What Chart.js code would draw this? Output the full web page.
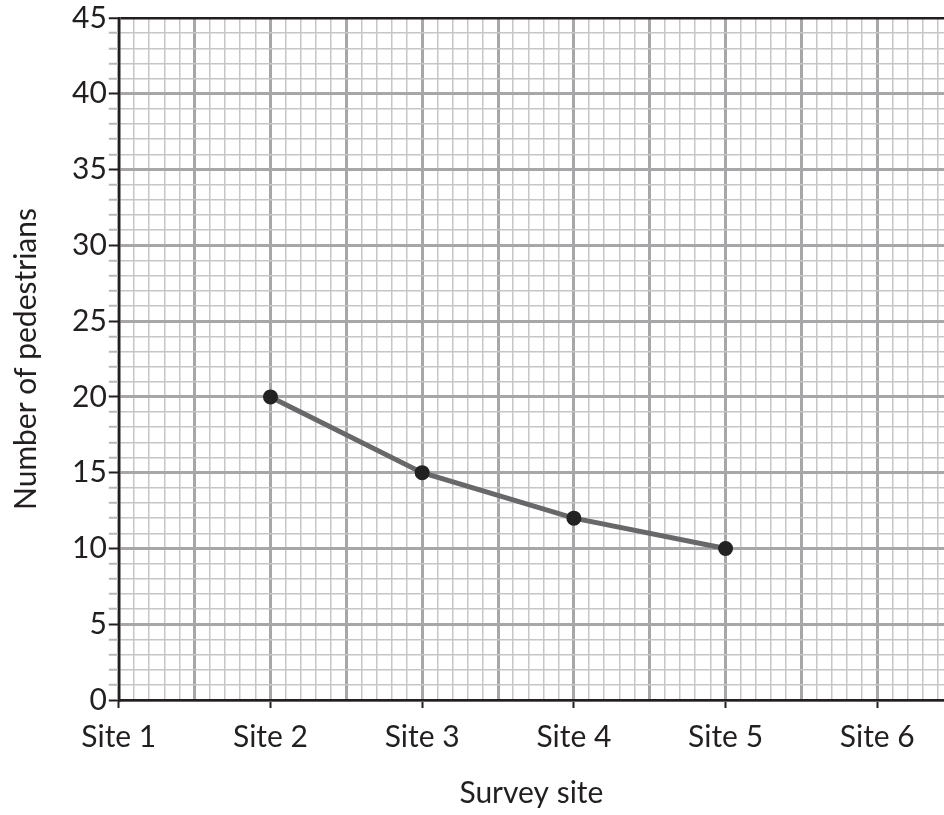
<!DOCTYPE html>
<html>
<head>
<meta charset="utf-8">
<script src="https://cdn.jsdelivr.net/npm/chart.js@4/dist/chart.umd.min.js"></script>
<style>
  html, body { margin: 0; padding: 0; background: #fff; overflow: hidden; }
  #wrap { position: fixed; left: 0; top: 0; width: 944px; height: 815px; }
</style>
</head>
<body>
<div id="wrap"><canvas id="chart"></canvas></div>
<script>
// data
const sites = ['Site 1', 'Site 2', 'Site 3', 'Site 4', 'Site 5', 'Site 6'];
const siteNumbers = [2, 3, 4, 5];
const pedestrians = [20, 15, 12, 10];
const yTickLabels = [0, 5, 10, 15, 20, 25, 30, 35, 40, 45];

const FONT = 'Lato, "Noto Sans", sans-serif';
const MINOR = '#c6c6c8';
const MAJOR = '#a7a7a9';

const points = siteNumbers.map((s, i) => ({ x: s, y: pedestrians[i] }));

function isWhole(v, step) {
  const n = Math.round(v * 10);
  return n % step === 0;
}

new Chart(document.getElementById('chart'), {
  type: 'line',
  data: {
    datasets: [{
      data: points,
      borderColor: '#68686a',
      borderWidth: 5,
      pointBackgroundColor: '#222',
      pointBorderColor: '#222',
      pointRadius: 5,
      tension: 0
    }]
  },
  options: {
    responsive: true,
    maintainAspectRatio: false,
    animation: false,
    layout: { autoPadding: false, padding: { top: 0, right: 0, left: 8, bottom: 0 } },
    plugins: { legend: { display: false }, tooltip: { enabled: false } },
    scales: {
      x: {
        type: 'linear',
        min: 1,
        max: 6.44,
        afterBuildTicks: (scale) => {
          const t = [];
          for (let i = 10; i <= 64; i++) t.push({ value: i / 10 });
          scale.ticks = t;
        },
        afterFit: (scale) => { scale.paddingRight = 0; },
        ticks: {
          autoSkip: false,
          maxRotation: 0,
          padding: 11,
          color: '#231f20',
          font: { family: FONT, size: 30 },
          callback: (v) => isWhole(v, 10) ? sites[Math.round(v) - 1] : ''
        },
        grid: {
          color: (c) => isWhole(c.tick.value, 5) ? MAJOR : MINOR,
          lineWidth: (c) => isWhole(c.tick.value, 5) ? 3 : 1.5,
          tickColor: (c) => isWhole(c.tick.value, 10) ? '#231f20' : 'rgba(0,0,0,0)',
          tickLength: 8,
          tickWidth: 2
        },
        border: { color: '#231f20', width: 2.5 },
        title: {
          display: true,
          text: 'Survey site',
          color: '#231f20',
          font: { family: FONT, size: 30 },
          padding: { top: 9 }
        }
      },
      y: {
        min: 0,
        max: 45,
        afterFit: (scale) => { scale.paddingTop = 18; },
        ticks: {
          stepSize: 1,
          autoSkip: false,
          padding: 2,
          color: '#231f20',
          font: { family: FONT, size: 30 },
          callback: (v) => yTickLabels.includes(v) ? String(v) : ''
        },
        grid: {
          color: (c) => c.tick.value === 45 ? '#231f20' : (c.tick.value % 5 === 0 ? MAJOR : MINOR),
          lineWidth: (c) => c.tick.value === 45 ? 2.5 : (c.tick.value % 5 === 0 ? 3 : 1.5),
          tickColor: (c) => c.tick.value % 5 === 0 ? '#231f20' : '#b8b8ba',
          tickLength: 10,
          tickWidth: 2
        },
        border: { color: '#231f20', width: 2.5 },
        title: {
          display: true,
          text: 'Number of pedestrians',
          color: '#231f20',
          font: { family: FONT, size: 30 },
          padding: { top: 0, bottom: 26 }
        }
      }
    }
  }
});
</script>
</body>
</html>
